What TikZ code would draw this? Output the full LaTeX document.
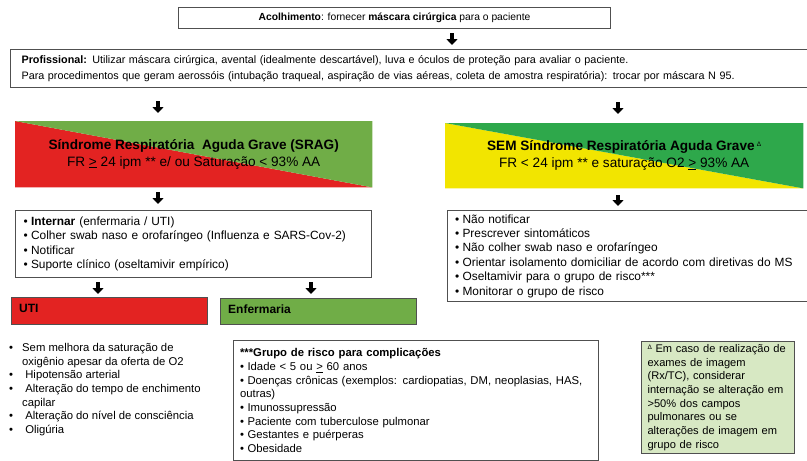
\documentclass[tikz,border=0pt]{standalone}
\usepackage{fontspec}
\setmainfont{Liberation Sans}
\usetikzlibrary{arrows.meta,backgrounds}
\definecolor{cred}{HTML}{E32322}
\definecolor{cgreen}{HTML}{70AD47}
\definecolor{cgreenb}{HTML}{2EA84B}
\definecolor{cyellow}{HTML}{F2E500}
\definecolor{cnote}{HTML}{D7E8C3}
\definecolor{cborder}{HTML}{505050}
\newcommand{\bul}{\makebox[7.5pt][l]{•}}
\newcommand{\ubul}{\makebox[13pt][l]{•}}
\begin{document}
\begin{tikzpicture}[x=1pt,y=-1pt,
  box/.style={draw=cborder,line width=1.1pt,inner sep=0pt,anchor=north west},
  listtext/.style={font=\fontsize{11.9}{14.4}\selectfont,align=left},
  blk/.style={line width=4.5pt,-{Triangle[width=11pt,length=6pt]},black}]
\useasboundingbox (0,0) rectangle (807,461);
\clip (0,0) rectangle (807,461);

% top boxes
\node[box,minimum width=432pt,minimum height=21pt,font=\fontsize{10.3}{12}\selectfont] (acol) at (178,7)
  {\textbf{Acolhimento}: fornecer \textbf{máscara cirúrgica} para o paciente};
\node[box,minimum width=802pt,minimum height=38pt,inner xsep=11pt,text width=780pt,align=left,
  font=\fontsize{10.8}{16}\selectfont] (prof) at (10,49)
  {\textbf{Profissional:} Utilizar máscara cirúrgica, avental (idealmente descartável), luva e óculos de proteção para avaliar o paciente.\\
   Para procedimentos que geram aerossóis (intubação traqueal, aspiração de vias aéreas, coleta de amostra respiratória): trocar por máscara N 95.};

% SRAG
\node[anchor=north west,minimum width=357pt,minimum height=66pt,inner sep=0pt,align=center,
  font=\fontsize{13.6}{17}\selectfont] (srag) at (15,121)
  {\textbf{Síndrome Respiratória\ \ Aguda Grave (SRAG)}\\FR \underline{>} 24 ipm ** e/ ou Saturação < 93\% AA};
\node[anchor=north west,minimum width=358pt,minimum height=65pt,inner sep=0pt,align=center,
  font=\fontsize{13.6}{17}\selectfont] (sem) at (445,123)
  {\textbf{SEM Síndrome Respiratória Aguda Grave}\,\raisebox{4pt}{\fontsize{6.5}{6.5}\selectfont Δ}\\FR < 24 ipm ** e saturação O2 \underline{>} 93\% AA};
\begin{scope}[on background layer]
  \fill[cred] (srag.north west) -- (srag.south east) -- (srag.south west) -- cycle;
  \fill[cgreen] (srag.north west) -- (srag.north east) -- (srag.south east) -- cycle;
  \fill[cyellow] (sem.north west) -- (sem.south east) -- (sem.south west) -- cycle;
  \fill[cgreenb] (sem.north west) -- (sem.north east) -- (sem.south east) -- cycle;
\end{scope}

% action lists
\node[box,minimum width=356pt,minimum height=67pt,inner xsep=8pt,text width=340pt,listtext] (intern) at (15,210)
  {\bul\textbf{Internar} (enfermaria / UTI)\\
   \bul Colher swab naso e orofaríngeo (Influenza e SARS-Cov-2)\\
   \bul Notificar\\
   \bul Suporte clínico (oseltamivir empírico)};
\node[box,minimum width=365pt,minimum height=91pt,inner xsep=7pt,text width=350pt,listtext] (semlist) at (447,210)
  {\bul Não notificar\\
   \bul Prescrever sintomáticos\\
   \bul Não colher swab naso e orofaríngeo\\
   \bul Orientar isolamento domiciliar de acordo com diretivas do MS\\
   \bul Oseltamivir para o grupo de risco***\\
   \bul Monitorar o grupo de risco};

% UTI / Enfermaria
\node[box,fill=cred,minimum width=196pt,minimum height=27pt] (uti) at (11,297) {};
\node[anchor=west,font=\fontsize{12}{13}\selectfont\bfseries,inner sep=0pt] (utit) at (19,308.5) {UTI};
\node[box,fill=cgreen,minimum width=196pt,minimum height=26pt] (enf) at (220,298) {};
\node[anchor=west,font=\fontsize{12}{13}\selectfont\bfseries,inner sep=0pt] (enft) at (228,309) {Enfermaria};

% UTI criteria
\node[anchor=north west,inner sep=0pt,font=\fontsize{11.3}{13.7}\selectfont,align=left] (utilist) at (9,343)
  {\ubul Sem melhora da saturação de\\
   \hspace*{13pt}oxigênio apesar da oferta de O2\\
   \ubul\ Hipotensão arterial\\
   \ubul\ Alteração do tempo de enchimento\\
   \hspace*{13pt}capilar\\
   \ubul\ Alteração do nível de consciência\\
   \ubul\ Oligúria};

% risk group
\node[box,minimum width=365pt,minimum height=120pt,inner xsep=6pt,text width=352pt,
  font=\fontsize{11.3}{13.7}\selectfont,align=left] (risk) at (233,340)
  {\textbf{***Grupo de risco para complicações}\\
   \bul Idade < 5 ou \underline{>} 60 anos\\
   \bul Doenças crônicas (exemplos: cardiopatias, DM, neoplasias, HAS,\\
   outras)\\
   \bul Imunossupressão\\
   \bul Paciente com tuberculose pulmonar\\
   \bul Gestantes e puérperas\\
   \bul Obesidade};

% note
\node[box,fill=cnote,minimum width=151pt,minimum height=112pt,inner xsep=6pt,text width=141pt,
  font=\fontsize{11.1}{13.7}\selectfont,align=left] (note) at (641,341)
  {\raisebox{3pt}{\fontsize{6.5}{6.5}\selectfont Δ} Em caso de realização de\\
   exames de imagem\\
   (Rx/TC), considerar\\
   internação se alteração em\\
   >50\% dos campos\\
   pulmonares ou se\\
   alterações de imagem em\\
   grupo de risco};

% block arrows
\coordinate (a1s) at (452,33);  \coordinate (a1e) at (452,45);
\coordinate (a2s) at (158,101); \coordinate (a2e) at (158,113);
\coordinate (a3s) at (618,102); \coordinate (a3e) at (618,114);
\coordinate (a4s) at (158,192); \coordinate (a4e) at (158,204);
\coordinate (a5s) at (618,195); \coordinate (a5e) at (618,206);
\coordinate (a6s) at (98,282);  \coordinate (a6e) at (98,294);
\coordinate (a7s) at (311,282); \coordinate (a7e) at (311,294);
\foreach \i in {1,...,7} {\draw[blk] (a\i s) -- (a\i e);}
\end{tikzpicture}
\end{document}
